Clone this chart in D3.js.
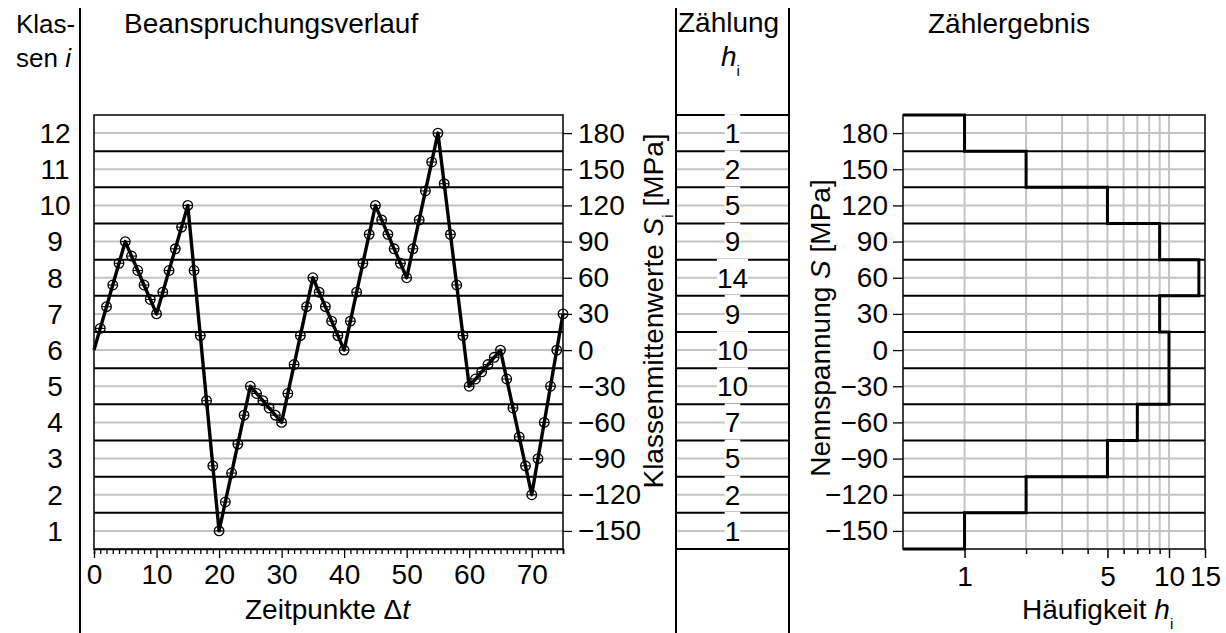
<!DOCTYPE html>
<html>
<head>
<meta charset="utf-8">
<script src="https://cdn.jsdelivr.net/npm/d3@7"></script>
<style>
  html, body { margin: 0; padding: 0; background: #fff; }
  svg { display: block; }
  text { font-family: "Liberation Sans", Arial, sans-serif; fill: #000; }
</style>
</head>
<body>
<svg id="chart" width="1226" height="633"></svg>
<script>
// Load history: stress value at each time step (MPa)
const timeSteps = d3.range(0, 76);
const stress = [
  0, 18, 36, 54, 72, 90, 78, 66, 54, 42,
  30, 48, 66, 84, 102, 120, 66, 12, -42, -96,
  -150, -126, -102, -78, -54, -30, -36, -42, -48, -54,
  -60, -36, -12, 12, 36, 60, 48, 36, 24, 12,
  0, 24, 48, 72, 96, 120, 108, 96, 84, 72,
  60, 84, 108, 132, 156, 180, 138, 96, 54, 12,
  -30, -24, -18, -12, -6, 0, -24, -48, -72, -96,
  -120, -90, -60, -30, 0, 30
];

// Classes (bottom to top), their mid values and counted frequencies
const classIndex = [1, 2, 3, 4, 5, 6, 7, 8, 9, 10, 11, 12];
const classMid = [-150, -120, -90, -60, -30, 0, 30, 60, 90, 120, 150, 180];
const classWidth = 30;
const counts = [1, 2, 5, 7, 10, 10, 9, 14, 9, 5, 2, 1];

const timeTicksMajor = [0, 10, 20, 30, 40, 50, 60, 70];
const freqTicks = [1, 2, 3, 4, 5, 6, 7, 8, 9, 10, 15];
const freqLabels = [1, 5, 10, 15];
const freqGrid = [1, 2, 3, 4, 5, 6, 7, 8, 9, 10];

const svg = d3.select("#chart");
const FS = 28;
const GRAY = "#c4c4c4";

const lowerEdge = classMid[0] - classWidth / 2;
const upperEdge = classMid[classMid.length - 1] + classWidth / 2;
const boundaries = d3.range(lowerEdge, upperEdge + 1, classWidth);

// Shared vertical scale
const y = d3.scaleLinear().domain([lowerEdge, upperEdge]).range([549, 115]);

// Panels
const L = { x0: 94, x1: 563 };
const M = { x0: 676, x1: 789 };
const R = { x0: 903, x1: 1205 };

const x = d3.scaleLinear().domain([0, 75]).range([L.x0, L.x1]);
const xh = d3.scaleLog().domain([0.5, 15]).range([R.x0, R.x1]);

// ---------- left panel: load history ----------
const gL = svg.append("g");
gL.selectAll("line.mid").data(classMid).join("line")
  .attr("x1", L.x0).attr("x2", L.x1)
  .attr("y1", d => y(d)).attr("y2", d => y(d))
  .attr("stroke", GRAY).attr("stroke-width", 2);
gL.selectAll("line.bnd").data(boundaries.slice(1, -1)).join("line")
  .attr("x1", L.x0).attr("x2", L.x1)
  .attr("y1", d => y(d)).attr("y2", d => y(d))
  .attr("stroke", "#000").attr("stroke-width", 2);

const pts = timeSteps.map((t, i) => [t, stress[i]]);
gL.append("path").datum(pts)
  .attr("fill", "none").attr("stroke", "#000").attr("stroke-width", 3.4)
  .attr("stroke-linejoin", "round")
  .attr("d", d3.line().x(d => x(d[0])).y(d => y(d[1])));

const mk = gL.selectAll("g.mk").data(pts.slice(1)).join("g")
  .attr("transform", d => `translate(${x(d[0])},${y(d[1])})`);
mk.append("circle").attr("r", 4.8).attr("fill", "none")
  .attr("stroke", "#000").attr("stroke-width", 1.3);
mk.append("line").attr("x1", -4.8).attr("x2", 4.8)
  .attr("stroke", "#000").attr("stroke-width", 1.1);

gL.append("rect").attr("x", L.x0).attr("y", y(upperEdge))
  .attr("width", L.x1 - L.x0).attr("height", y(lowerEdge) - y(upperEdge))
  .attr("fill", "none").attr("stroke", "#111").attr("stroke-width", 1.6);

// bottom time axis
const axT = gL.append("g").attr("transform", `translate(0,${y(lowerEdge)})`)
  .call(d3.axisBottom(x).tickValues(timeSteps).tickSize(5).tickPadding(10)
    .tickFormat(d => timeTicksMajor.includes(d) ? d : ""));
axT.select(".domain").attr("stroke-width", 1.6);
axT.selectAll(".tick line").attr("stroke-width", 1.3)
  .attr("y2", d => timeTicksMajor.includes(d) ? 9 : 5);
axT.selectAll(".tick text").attr("font-size", FS).attr("font-family", null).attr("dy", "0.71em");

// right axis: class mid values
const axS = gL.append("g").attr("transform", `translate(${L.x1},0)`)
  .call(d3.axisRight(y).tickValues(classMid).tickSize(9).tickPadding(6));
axS.select(".domain").remove();
axS.selectAll(".tick line").attr("stroke-width", 1.3);
axS.selectAll(".tick text").attr("font-size", FS).attr("font-family", null);

// class index labels
svg.append("g").selectAll("text").data(classIndex).join("text")
  .attr("x", 55).attr("y", (d, i) => y(classMid[i]))
  .attr("dy", "0.35em").attr("text-anchor", "middle").attr("font-size", FS)
  .text(d => d);

// ---------- middle column: counts ----------
const gM = svg.append("g");
gM.selectAll("line.mid").data(classMid).join("line")
  .attr("x1", M.x0).attr("x2", M.x1)
  .attr("y1", d => y(d)).attr("y2", d => y(d))
  .attr("stroke", GRAY).attr("stroke-width", 2);
gM.selectAll("line.bnd").data(boundaries).join("line")
  .attr("x1", M.x0).attr("x2", M.x1)
  .attr("y1", d => y(d)).attr("y2", d => y(d))
  .attr("stroke", "#000").attr("stroke-width", 2);
const cntG = gM.selectAll("g.cnt").data(counts).join("g");
cntG.each(function (d, i) {
  const g = d3.select(this);
  const cx = (M.x0 + M.x1) / 2, cy = y(classMid[i]);
  const rect = g.append("rect").attr("fill", "#fff");
  const t = g.append("text").attr("x", cx).attr("y", cy).attr("dy", "0.35em")
    .attr("text-anchor", "middle").attr("font-size", FS).text(d);
  const bb = t.node().getBBox();
  rect.attr("x", bb.x).attr("width", bb.width)
    .attr("y", cy - 19).attr("height", 31);
});

// ---------- right panel: frequency distribution ----------
const gR = svg.append("g");
gR.selectAll("line.vg").data(freqGrid).join("line")
  .attr("x1", d => xh(d)).attr("x2", d => xh(d))
  .attr("y1", y(upperEdge)).attr("y2", y(lowerEdge))
  .attr("stroke", GRAY).attr("stroke-width", 2);
gR.selectAll("line.mid").data(classMid).join("line")
  .attr("x1", R.x0).attr("x2", R.x1)
  .attr("y1", d => y(d)).attr("y2", d => y(d))
  .attr("stroke", GRAY).attr("stroke-width", 2);
gR.selectAll("line.bnd").data(boundaries.slice(1, -1)).join("line")
  .attr("x1", R.x0).attr("x2", R.x1)
  .attr("y1", d => y(d)).attr("y2", d => y(d))
  .attr("stroke", "#000").attr("stroke-width", 2);
gR.append("rect").attr("x", R.x0).attr("y", y(upperEdge))
  .attr("width", R.x1 - R.x0).attr("height", y(lowerEdge) - y(upperEdge))
  .attr("fill", "none").attr("stroke", "#111").attr("stroke-width", 1.6);

// step outline of the counted frequencies (top class first)
const stepPts = [[xh.domain()[0], upperEdge]];
for (let i = counts.length - 1; i >= 0; i--) {
  stepPts.push([counts[i], classMid[i] + classWidth / 2]);
  stepPts.push([counts[i], classMid[i] - classWidth / 2]);
}
stepPts.push([xh.domain()[0], lowerEdge]);
gR.append("path").datum(stepPts)
  .attr("fill", "none").attr("stroke", "#000").attr("stroke-width", 3)
  .attr("d", d3.line().x(d => xh(d[0])).y(d => y(d[1])));

const axH = gR.append("g").attr("transform", `translate(0,${y(lowerEdge)})`)
  .call(d3.axisBottom(xh).tickValues(freqTicks).tickSize(5).tickPadding(12)
    .tickFormat(d => freqLabels.includes(d) ? d : ""));
axH.select(".domain").remove();
axH.selectAll(".tick line").attr("stroke-width", 1.5)
  .attr("y2", d => freqLabels.includes(d) ? 9 : 5);
axH.selectAll(".tick text").attr("font-size", FS).attr("font-family", null).attr("dy", "0.71em");

const axN = gR.append("g").attr("transform", `translate(${R.x0},0)`)
  .call(d3.axisLeft(y).tickValues(classMid).tickSize(10).tickPadding(5));
axN.select(".domain").remove();
axN.selectAll(".tick line").attr("stroke-width", 1.3);
axN.selectAll(".tick text").attr("font-size", FS).attr("font-family", null);

// ---------- column dividers ----------
[80, M.x0, M.x1].forEach(xx => {
  svg.append("line").attr("x1", xx).attr("x2", xx).attr("y1", 8).attr("y2", 633)
    .attr("stroke", "#000").attr("stroke-width", 2);
});

// ---------- titles and axis labels ----------
const T = svg.append("g").attr("font-size", FS);
T.append("text").attr("x", 16).attr("y", 33).attr("font-size", 26).text("Klas-");
const t2 = T.append("text").attr("x", 16).attr("y", 67).attr("font-size", 26);
t2.append("tspan").text("sen ");
t2.append("tspan").attr("font-style", "italic").text("i");
T.append("text").attr("x", 124).attr("y", 33).text("Beanspruchungsverlauf");
T.append("text").attr("x", 678).attr("y", 32).text("Zählung");
const hT = T.append("text").attr("x", 721).attr("y", 66);
hT.append("tspan").attr("font-style", "italic").text("h");
hT.append("tspan").attr("font-size", 15).attr("dy", 10).text("i");
T.append("text").attr("x", 928).attr("y", 33).text("Zählergebnis");

const zt = T.append("text").attr("x", 245).attr("y", 619);
zt.append("tspan").text("Zeitpunkte Δ");
zt.append("tspan").attr("font-style", "italic").text("t");

const ht = T.append("text").attr("x", 1022).attr("y", 619);
ht.append("tspan").text("Häufigkeit ");
ht.append("tspan").attr("font-style", "italic").text("h");
ht.append("tspan").attr("font-size", 15).attr("dy", 10).text("i");

const kl = T.append("text").attr("transform", "translate(663,311) rotate(-90)")
  .attr("text-anchor", "middle");
kl.append("tspan").text("Klassenmittenwerte ");
kl.append("tspan").attr("font-style", "italic").text("S");
kl.append("tspan").attr("font-size", 15).attr("dy", 10).text("i");
kl.append("tspan").attr("dy", -10).text(" [MPa]");

const nn = T.append("text").attr("transform", "translate(830,328) rotate(-90)")
  .attr("text-anchor", "middle");
nn.append("tspan").text("Nennspannung ");
nn.append("tspan").attr("font-style", "italic").text("S");
nn.append("tspan").text(" [MPa]");
</script>
</body>
</html>
